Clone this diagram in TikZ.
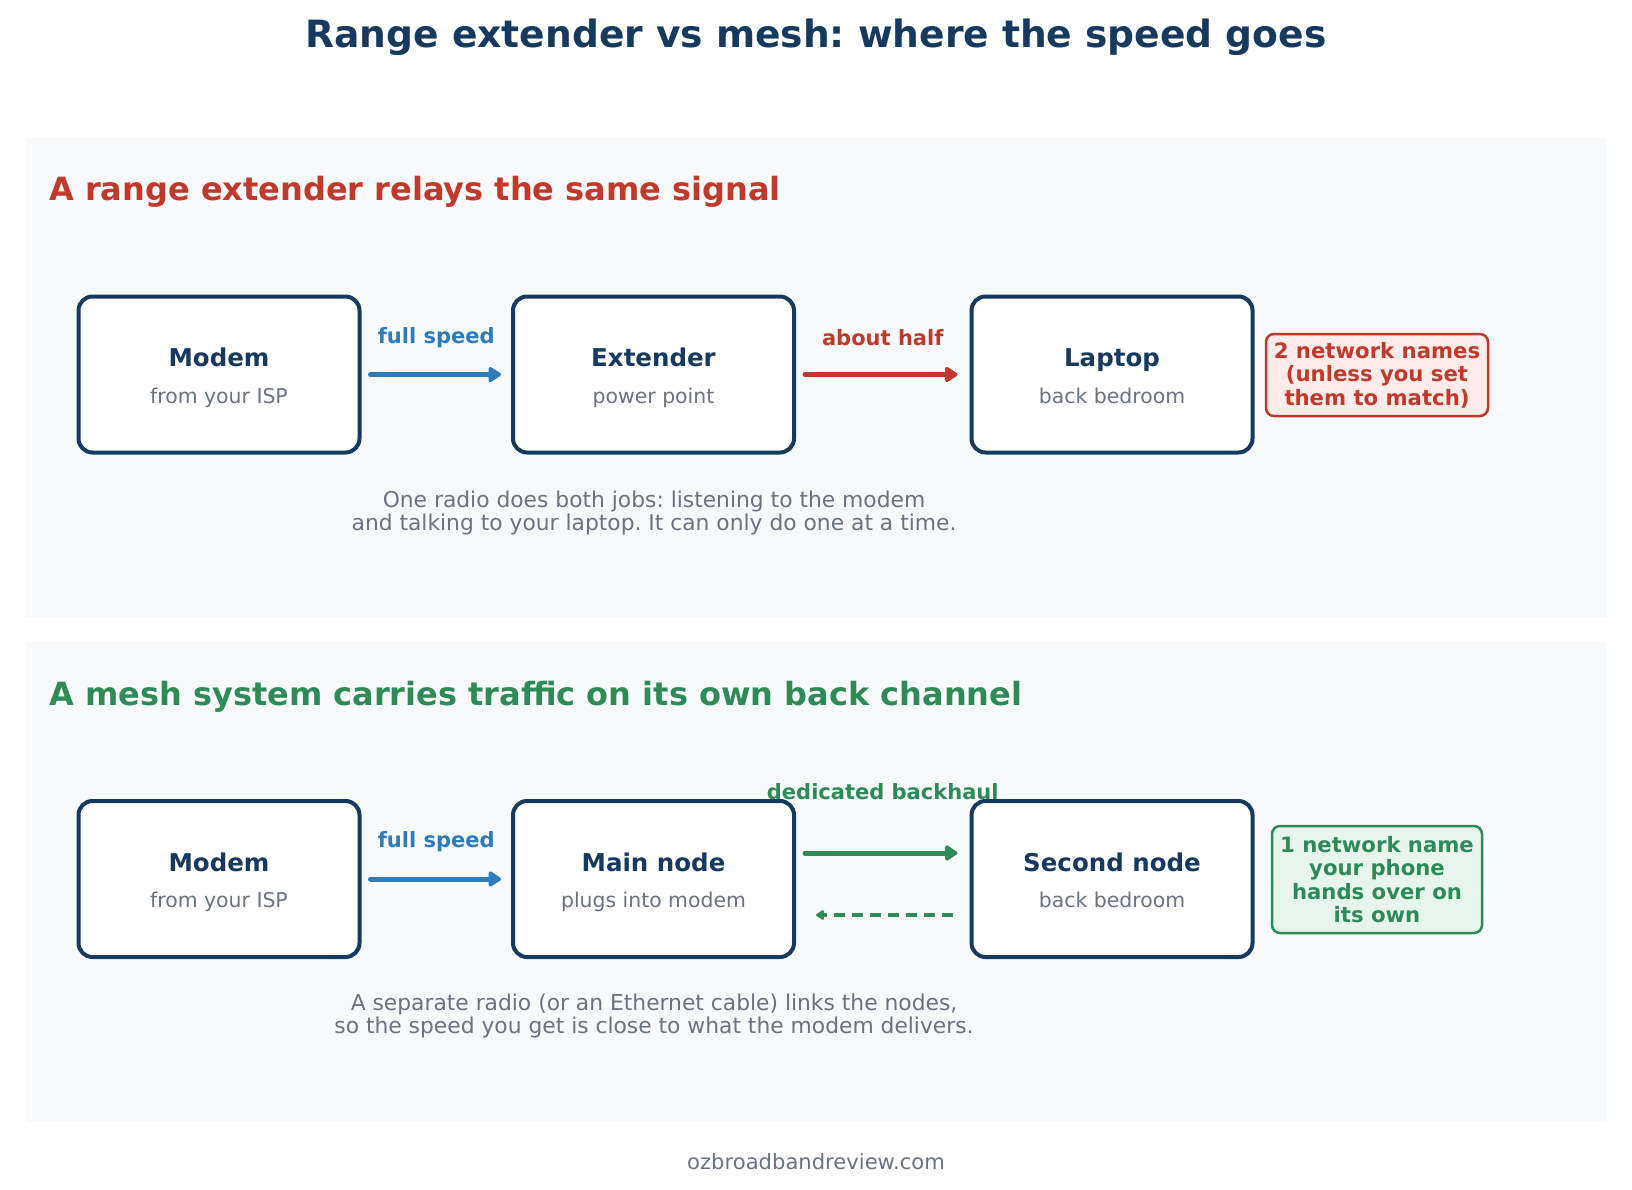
\documentclass[tikz,border=0pt]{standalone}
\usepackage{fontspec}
\setmainfont{DejaVu Sans}
\usetikzlibrary{arrows.meta}
\definecolor{navy}{HTML}{163A5F}
\definecolor{redtext}{HTML}{C0392B}
\definecolor{greentext}{HTML}{2E8B57}
\definecolor{blueflow}{HTML}{2E7CB8}
\definecolor{greytext}{HTML}{6B7280}
\definecolor{panelfill}{HTML}{F7F9FB}
\definecolor{redfill}{HTML}{FDECEA}
\definecolor{greenfill}{HTML}{E8F5EE}
\frenchspacing

\begin{document}
\begin{tikzpicture}[x=1pt,y=-1pt,
  box/.style={draw=navy,line width=4pt,fill=white,rounded corners=14pt,
    minimum width=281pt,minimum height=156pt},
  boxtitle/.style={font=\fontsize{24.5}{29}\selectfont\bfseries,text=navy,anchor=base},
  boxsub/.style={font=\fontsize{20.4}{24}\selectfont,text=greytext,anchor=base},
  flow/.style={line width=5pt,line cap=round,
    -{Triangle[length=14pt,width=17pt,round]}},
  flowlabel/.style={font=\fontsize{21}{25}\selectfont\bfseries},
  heading/.style={font=\fontsize{32}{38}\selectfont\bfseries,anchor=west,inner sep=0pt},
  caption/.style={font=\fontsize{21.8}{23}\selectfont,text=greytext,align=center},
  sidenote/.style={line width=2.5pt,rounded corners=8pt,align=center,
    font=\fontsize{21.2}{23.5}\selectfont\bfseries}]
  \useasboundingbox (0,0) rectangle (1632,1190);
  % title
  \node[font=\fontsize{37.6}{45}\selectfont\bfseries,text=navy] (title) at (816,37.5)
    {Range extender vs mesh: where the speed goes};
  % panels
  \fill[panelfill] (26,138) rectangle (1607,617);
  \fill[panelfill] (26,642) rectangle (1607,1122);

  % range extender
  \node[heading,text=redtext] (headext) at (49,192) {A range extender relays the same signal};
  \node[box] (m1) at (219,374.5) {};
  \node[box] (e1) at (653.5,374.5) {};
  \node[box] (l1) at (1112,374.5) {};
  \node[boxtitle] at ([yshift=8pt]m1.center) {Modem};
  \node[boxsub] at ([yshift=-28.5pt]m1.center) {from your ISP};
  \node[boxtitle] at ([yshift=8pt]e1.center) {Extender};
  \node[boxsub] at ([yshift=-28.5pt]e1.center) {power point};
  \node[boxtitle] at ([yshift=8pt]l1.center) {Laptop};
  \node[boxsub] at ([yshift=-28.5pt]l1.center) {back bedroom};
  \draw[flow,blueflow,shorten <=9pt,shorten >=10pt] (m1.east) --
    node[flowlabel,text=blueflow,yshift=37pt] {full speed} (e1.west);
  \draw[flow,redtext,shorten <=9pt,shorten >=12pt] (e1.east) --
    node[flowlabel,text=redtext,yshift=37pt] {about half} (l1.west);
  \node[sidenote,draw=redtext,fill=redfill,text=redtext,minimum width=222pt,minimum height=82pt]
    (names1) at (1377,375) {2 network names\\(unless you set\\them to match)};
  \node[caption] (cap1) at (654,512.5)
    {One radio does both jobs: listening to the modem\\and talking to your laptop. It can only do one at a time.};

  % mesh
  \node[heading,text=greentext] (headmesh) at (49,697) {A mesh system carries traffic on its own back channel};
  \node[box] (m2) at (219,879) {};
  \node[box] (n2) at (653.5,879) {};
  \node[box] (n3) at (1112,879) {};
  \node[boxtitle] at ([yshift=8pt]m2.center) {Modem};
  \node[boxsub] at ([yshift=-28.5pt]m2.center) {from your ISP};
  \node[boxtitle] at ([yshift=8pt]n2.center) {Main node};
  \node[boxsub] at ([yshift=-28.5pt]n2.center) {plugs into modem};
  \node[boxtitle] at ([yshift=8pt]n3.center) {Second node};
  \node[boxsub] at ([yshift=-28.5pt]n3.center) {back bedroom};
  \draw[flow,blueflow,shorten <=9pt,shorten >=10pt] (m2.east) --
    node[flowlabel,text=blueflow,yshift=37pt] {full speed} (n2.west);
  \draw[flow,greentext,shorten <=9pt,shorten >=12pt] ([yshift=26pt]n2.east) --
    node[flowlabel,text=greentext,yshift=61pt] {dedicated backhaul} ([yshift=26pt]n3.west);
  \draw[greentext,line width=3.5pt,dash pattern=on 11pt off 7pt,
    -{Triangle[length=9pt,width=11pt,round]},shorten <=17pt,shorten >=20pt]
    ([yshift=-36pt]n3.west) -- ([yshift=-36pt]n2.east);
  \node[sidenote,draw=greentext,fill=greenfill,text=greentext,minimum width=210pt,minimum height=107pt]
    (names2) at (1377,879.5) {1 network name\\your phone\\hands over on\\its own};
  \node[caption] (cap2) at (654,1016)
    {A separate radio (or an Ethernet cable) links the nodes,\\so the speed you get is close to what the modem delivers.};

  % footer
  \node[font=\fontsize{21.1}{25}\selectfont,text=greytext] (footer) at (816,1162) {ozbroadbandreview.com};
\end{tikzpicture}
\end{document}
